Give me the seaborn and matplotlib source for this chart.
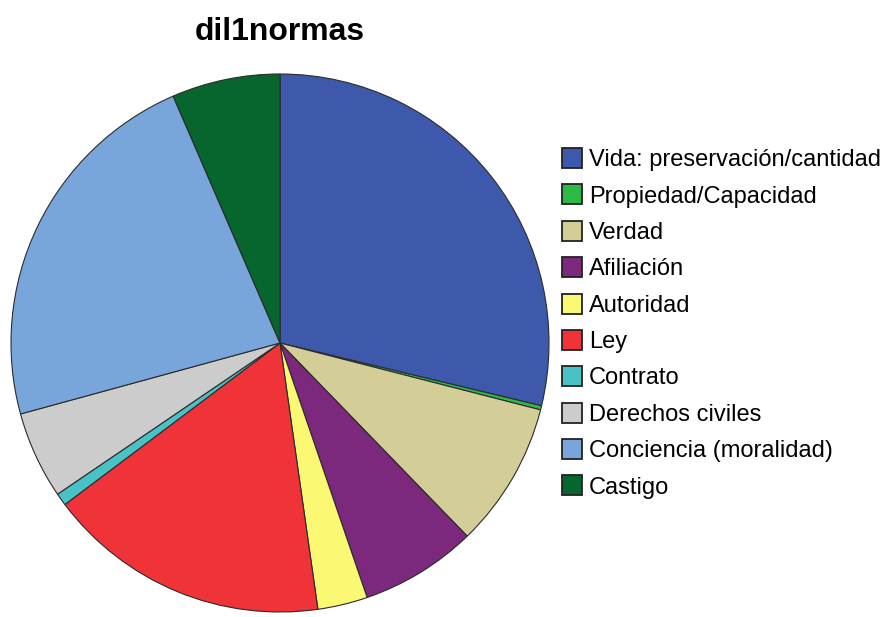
import matplotlib
matplotlib.use("Agg")
import matplotlib.pyplot as plt
import seaborn as sns

categories = [
    "Vida: preservación/cantidad",
    "Propiedad/Capacidad",
    "Verdad",
    "Afiliación",
    "Autoridad",
    "Ley",
    "Contrato",
    "Derechos civiles",
    "Conciencia (moralidad)",
    "Castigo",
]
counts = [115, 1, 35, 28, 12, 68, 3, 21, 91, 26]
slice_colors = [
    "#3E58AC", "#2EB848", "#D3CE97", "#7C287D", "#FBF873",
    "#EF3338", "#48C2C5", "#CCCCCC", "#78A6DA", "#07652E",
]
title = "dil1normas"

sns.set_theme(style="white")
plt.rcParams["font.family"] = ["Liberation Sans", "DejaVu Sans"]
plt.rcParams["text.color"] = "black"

W, H, DPI = 888, 617, 100
fig = plt.figure(figsize=(W / DPI, H / DPI), dpi=DPI)
fig.patch.set_facecolor("white")

cx, cy, r = 280, 343, 269
ax = fig.add_axes([(cx - r) / W, (H - cy - r) / H, 2 * r / W, 2 * r / H])
palette = sns.color_palette(slice_colors)
wedges, _ = ax.pie(
    counts,
    colors=palette,
    startangle=90,
    counterclock=False,
    radius=1.0,
    wedgeprops=dict(edgecolor="#2b2b2b", linewidth=0.8),
)
ax.set_xlim(-1.0, 1.0)
ax.set_ylim(-1.0, 1.0)
ax.set_aspect("auto")
ax.axis("off")

fig.text(280 / W, 1 - 32 / H, title, ha="center", va="center", color="black",
         fontsize=23, fontweight="bold", family=["Liberation Sans", "DejaVu Sans"])

leg = fig.legend(
    wedges, categories,
    loc="upper left",
    bbox_to_anchor=(562 / W, 1 - 148 / H),
    frameon=False,
    borderpad=0,
    borderaxespad=0,
    handlelength=0.85,
    handleheight=0.93,
    handletextpad=0.3,
    labelspacing=0.56,
    labelcolor="black",
    prop={"family": ["Liberation Sans", "DejaVu Sans"], "size": 17},
)
for h in leg.legend_handles:
    h.set_edgecolor("#222222")
    h.set_linewidth(1.3)

fig.savefig("out.png", dpi=DPI, facecolor="white")
